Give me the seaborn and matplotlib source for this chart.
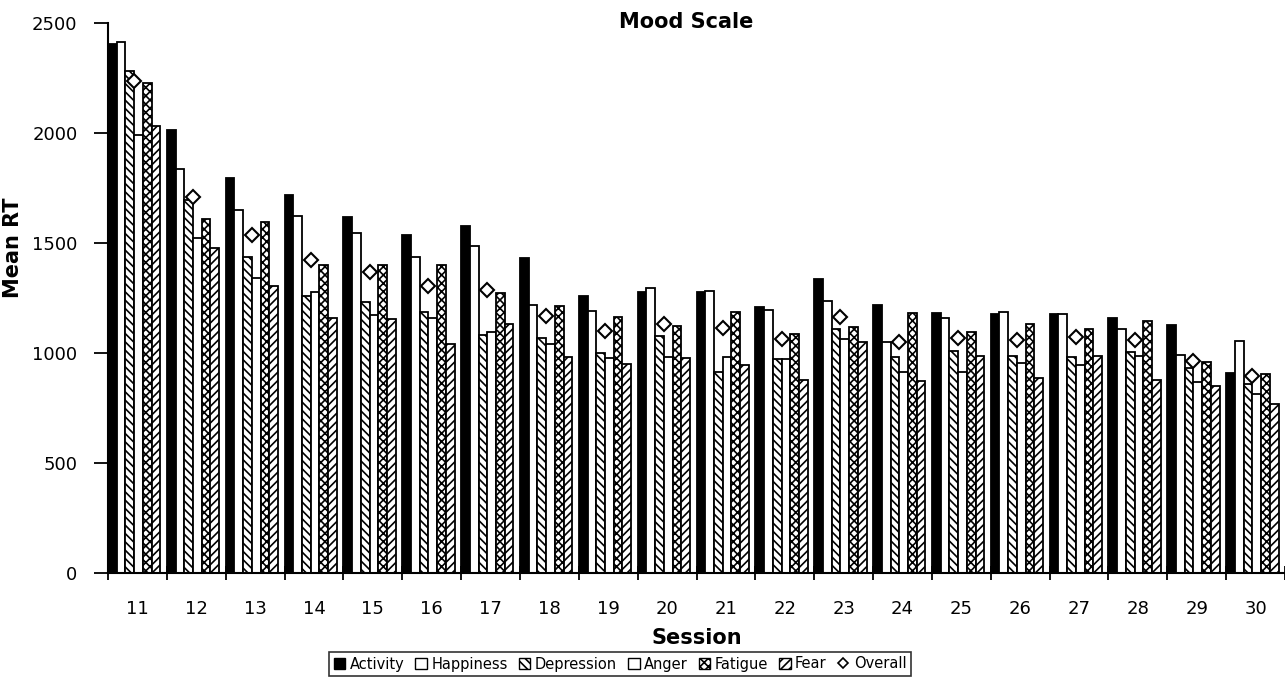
import numpy as np
import pandas as pd
import matplotlib
matplotlib.use("Agg")
import matplotlib.pyplot as plt
import seaborn as sns
from matplotlib.patches import Patch
from matplotlib.lines import Line2D

sessions = [str(s) for s in range(11, 31)]
activity = [2403, 2013, 1795, 1715, 1614, 1533, 1576, 1431, 1258, 1276, 1273, 1208, 1334, 1216, 1181, 1175, 1175, 1156, 1127, 909]
happiness = [2410, 1836, 1650, 1621, 1544, 1435, 1485, 1216, 1190, 1292, 1281, 1193, 1234, 1050, 1156, 1183, 1175, 1106, 989, 1053]
depression = [2278, 1695, 1435, 1258, 1231, 1183, 1080, 1067, 997, 1075, 913, 971, 1107, 981, 1007, 986, 981, 1001, 931, 856]
anger = [1987, 1521, 1337, 1273, 1171, 1159, 1092, 1038, 977, 979, 981, 971, 1062, 913, 913, 951, 945, 986, 868, 811]
fatigue = [2225, 1605, 1594, 1400, 1397, 1400, 1269, 1213, 1163, 1121, 1185, 1083, 1115, 1181, 1091, 1130, 1106, 1145, 959, 901]
fear = [2028, 1473, 1303, 1155, 1151, 1039, 1128, 981, 947, 973, 944, 876, 1048, 871, 986, 883, 985, 876, 848, 767]
overall = [2232, 1705, 1533, 1420, 1367, 1302, 1284, 1167, 1098, 1130, 1110, 1060, 1160, 1046, 1065, 1057, 1069, 1057, 963, 891]

moods = ["Activity", "Happiness", "Depression", "Anger", "Fatigue", "Fear"]
series = [activity, happiness, depression, anger, fatigue, fear]

rows = []
for m, vals in zip(moods, series):
    for s, v in zip(sessions, vals):
        rows.append({"Session": s, "Mood": m, "RT": v})
df = pd.DataFrame(rows)
df_overall = pd.DataFrame({"Session": sessions, "Overall": overall})

sns.set_style("ticks")
plt.rcParams["font.family"] = ["DejaVu Sans"]
plt.rcParams["hatch.linewidth"] = 1.2
for key in ["text.color", "axes.labelcolor", "xtick.color", "ytick.color", "axes.edgecolor"]:
    plt.rcParams[key] = "black"

styles = {
    "Activity": dict(face="black", hatch=None),
    "Happiness": dict(face="white", hatch=None),
    "Depression": dict(face="white", hatch="\\\\\\\\"),
    "Anger": dict(face="white", hatch=None),
    "Fatigue": dict(face="white", hatch="xxxx"),
    "Fear": dict(face="white", hatch="////"),
}

fig = plt.figure(figsize=(12.85, 6.83), dpi=100)
ax = fig.add_axes([108 / 1285, 1 - 572.5 / 683, (1285 - 108) / 1285, 550 / 683])

sns.barplot(data=df, x="Session", y="RT", hue="Mood", order=sessions, hue_order=moods,
            palette=["white"] * 6, width=0.89, edgecolor="black", linewidth=1.3,
            legend=False, ax=ax)

for cont, m in zip(ax.containers, moods):
    st = styles[m]
    for bar in cont:
        bar.set_facecolor(st["face"])
        bar.set_edgecolor("black")
        if st["hatch"]:
            bar.set_hatch(st["hatch"])

sns.pointplot(data=df_overall, x="Session", y="Overall", order=sessions,
              linestyle="none", marker="D", color="black", markersize=7,
              markerfacecolor="white", markeredgewidth=1.5, ax=ax, errorbar=None)

n = len(sessions)
ax.set_xlim(-0.445, 19.405)
ax.set_ylim(0, 2500)
ax.set_yticks([0, 500, 1000, 1500, 2000, 2500])
ax.set_xticks(np.arange(n) + 0.055)
ax.set_xticklabels(sessions)
ax.set_xticks(np.arange(n + 1) - 0.445, minor=True)
ax.tick_params(axis="x", which="major", length=0, pad=20, labelsize=13, labelcolor="black")
ax.tick_params(axis="x", which="minor", length=10, width=1.3, direction="inout", color="black")
ax.tick_params(axis="y", which="major", length=10, width=1.3, direction="out", pad=12,
               labelsize=13, color="black", labelcolor="black")

for side in ["top", "right"]:
    ax.spines[side].set_visible(False)
for side in ["left", "bottom"]:
    ax.spines[side].set_color("black")
    ax.spines[side].set_linewidth(1.5)

ax.set_xlabel("Session", fontsize=15, fontweight="bold", color="black")
ax.set_ylabel("Mean RT", fontsize=15, fontweight="bold", color="black")
ax.xaxis.set_label_coords(0.50, -0.10)
ax.yaxis.set_label_coords(-0.072, 0.59)

fig.text(686 / 1285, 1 - 22 / 683, "Mood Scale", fontsize=15, fontweight="bold",
         ha="center", va="center", color="black")

handles = []
for m in moods:
    st = styles[m]
    handles.append(Patch(facecolor=st["face"], edgecolor="black", hatch=st["hatch"], label=m))
handles.append(Line2D([], [], linestyle="none", marker="D", markersize=5, color="black",
                      markerfacecolor="white", markeredgewidth=1.2, label="Overall"))
leg = fig.legend(handles=handles, loc="center", bbox_to_anchor=(620 / 1285, 1 - 664 / 683),
                 ncol=7, fontsize=10.5, frameon=True, fancybox=False, edgecolor="black",
                 handlelength=0.8, handleheight=0.8, handletextpad=0.3, columnspacing=0.75,
                 borderpad=0.3, borderaxespad=0, labelcolor="black")
leg.get_frame().set_linewidth(1.2)

fig.savefig("out.png", dpi=100, facecolor="white")
